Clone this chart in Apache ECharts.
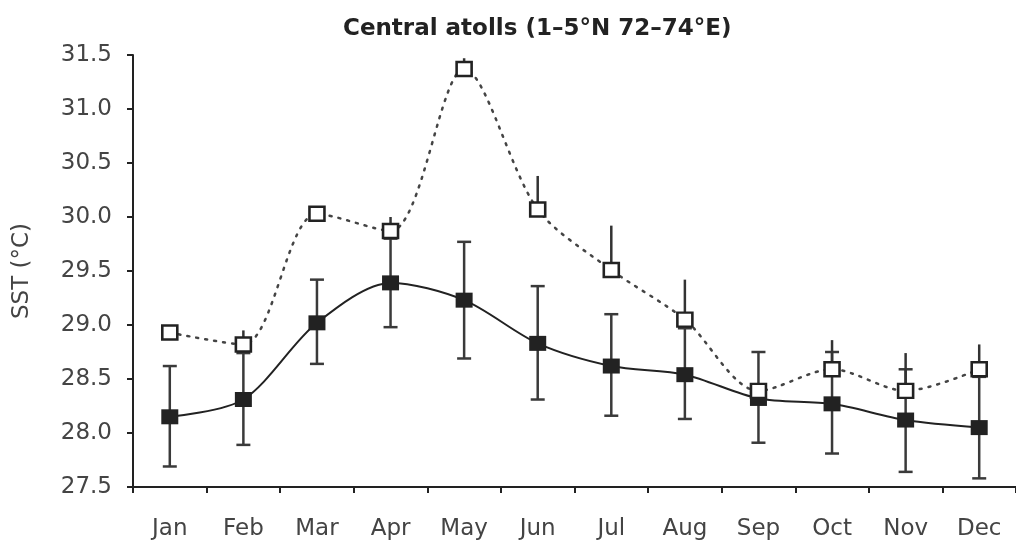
<!DOCTYPE html>
<html>
<head>
<meta charset="utf-8">
<script src="https://cdn.jsdelivr.net/npm/echarts@6/dist/echarts.min.js"></script>
<style>
  html, body { margin: 0; padding: 0; background: #fff; }
  #chart { width: 1016px; height: 541px; }
</style>
</head>
<body>
<div id="chart"></div>
<script>
(function() {
  'use strict';

  // months and values
  var months = ['Jan', 'Feb', 'Mar', 'Apr', 'May', 'Jun', 'Jul', 'Aug', 'Sep', 'Oct', 'Nov', 'Dec'];
  var yTicks = [27.5, 28.0, 28.5, 29.0, 29.5, 30.0, 30.5, 31.0, 31.5];

  // filled squares (solid line) with +/- error bars
  var closedMean = [28.15, 28.31, 29.02, 29.39, 29.23, 28.83, 28.62, 28.54, 28.32, 28.27, 28.12, 28.05];
  var closedLow  = [27.69, 27.89, 28.64, 28.98, 28.69, 28.31, 28.16, 28.13, 27.91, 27.81, 27.64, 27.58];
  var closedHigh = [28.62, 28.74, 29.42, 29.80, 29.77, 29.36, 29.10, 28.97, 28.75, 28.75, 28.59, 28.52];

  // open squares (dotted line), only upper bars visible
  var openMean = [28.93, 28.82, 30.03, 29.87, 31.37, 30.07, 29.51, 29.05, 28.39, 28.59, 28.39, 28.59];
  var openHigh = [null, 28.95, null, 30.00, 31.47, 30.38, 29.92, 29.42, null, 28.86, 28.74, 28.82];

  var font = '"DejaVu Sans", Verdana, sans-serif';

  function errData(lo, hi) {
    var out = [];
    for (var i = 0; i < months.length; i++) {
      if (lo[i] == null || hi[i] == null) continue;
      out.push([i, lo[i], hi[i]]);
    }
    return out;
  }

  function errRender(capHalf, color, width) {
    return function(params, api) {
      var x = api.value(0);
      var a = api.coord([x, api.value(1)]);
      var b = api.coord([x, api.value(2)]);
      var style = { stroke: color, lineWidth: width, fill: null };
      var kids = [{
        type: 'line',
        shape: { x1: a[0], y1: a[1], x2: b[0], y2: b[1] },
        style: style
      }];
      if (capHalf > 0) {
        kids.push({ type: 'line', shape: { x1: a[0] - capHalf, y1: a[1], x2: a[0] + capHalf, y2: a[1] }, style: style });
        kids.push({ type: 'line', shape: { x1: b[0] - capHalf, y1: b[1], x2: b[0] + capHalf, y2: b[1] }, style: style });
      }
      return { type: 'group', children: kids };
    };
  }

  var myChart = echarts.init(document.getElementById('chart'));

  var option = {
    backgroundColor: '#fff',
    animation: false,
    title: {
      text: 'Central atolls (1\u20135\u00b0N 72\u201374\u00b0E)',
      left: 338,
      top: 13,
      textStyle: { fontFamily: font, fontSize: 23, fontWeight: 'bold', color: '#222' }
    },
    grid: { left: 133, top: 55, width: 886, height: 432 },
    xAxis: {
      type: 'category',
      data: months,
      boundaryGap: true,
      axisLine: { lineStyle: { color: '#222', width: 2 } },
      axisTick: { show: true, length: 6, inside: false, lineStyle: { color: '#222', width: 2 } },
      axisLabel: { margin: 31, fontFamily: font, fontSize: 23, color: '#444' },
      splitLine: { show: false }
    },
    yAxis: {
      type: 'value',
      min: yTicks[0],
      max: yTicks[yTicks.length - 1],
      interval: 0.5,
      name: 'SST (\u00b0C)',
      nameLocation: 'middle',
      nameGap: 99,
      nameTextStyle: { fontFamily: font, fontSize: 23, color: '#444' },
      axisLine: { show: true, lineStyle: { color: '#222', width: 2 } },
      axisTick: { show: true, length: 6, lineStyle: { color: '#222', width: 2 } },
      axisLabel: {
        margin: 21, fontFamily: font, fontSize: 23, color: '#444',
        formatter: function(v) { return v.toFixed(1); }
      },
      splitLine: { show: false }
    },
    series: [
      {
        name: 'closedErr',
        type: 'custom',
        z: 2,
        renderItem: errRender(7, '#3a3a3a', 2.5),
        data: errData(closedLow, closedHigh)
      },
      {
        name: 'closed',
        type: 'line',
        z: 3,
        data: closedMean,
        smooth: 0.3,
        symbol: 'rect',
        symbolSize: [17, 15],
        lineStyle: { color: '#222', width: 2 },
        itemStyle: { color: '#222' }
      },
      {
        name: 'openErr',
        type: 'custom',
        z: 4,
        renderItem: errRender(0, '#333', 2.5),
        data: errData(openMean, openHigh)
      },
      {
        name: 'open',
        type: 'line',
        z: 5,
        data: openMean,
        smooth: 0.3,
        symbol: 'rect',
        symbolSize: [15, 14],
        lineStyle: { color: '#444', width: 2.5, type: [2, 7], cap: 'round' },
        itemStyle: { color: '#fff', borderColor: '#222', borderWidth: 2.5 }
      }
    ]
  };

  myChart.setOption(option);
}());
</script>
</body>
</html>
